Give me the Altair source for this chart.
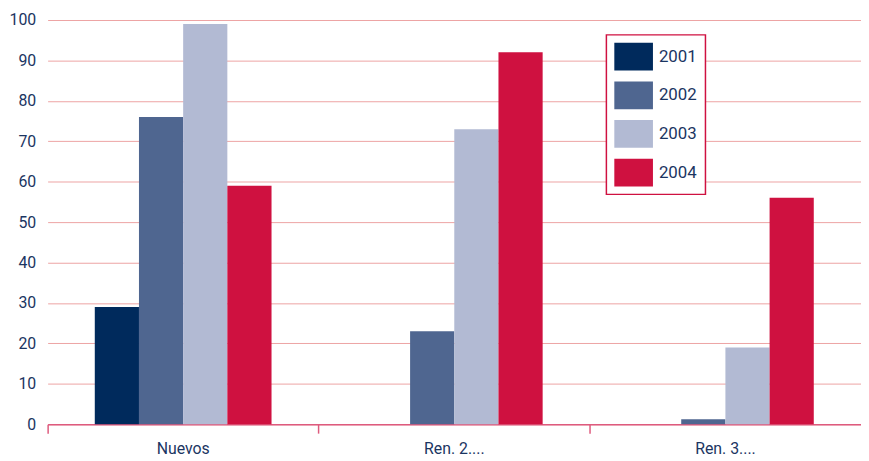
import altair as alt
import pandas as pd

categories = ["Nuevos", "Ren. 2....", "Ren. 3...."]
years = ["2001", "2002", "2003", "2004"]
v2001 = [29, 0, 0]
v2002 = [76, 23, 1.2]
v2003 = [99, 73, 19]
v2004 = [59, 92, 56]
colors = ["#002a5c", "#4f6690", "#b2bad3", "#cf1140"]
y_ticks = [0, 10, 20, 30, 40, 50, 60, 70, 80, 90, 100]

series = {"2001": v2001, "2002": v2002, "2003": v2003, "2004": v2004}
rows = []
for yr in years:
    for c, v in zip(categories, series[yr]):
        rows.append({"cat": c, "year": yr, "value": v})
df = pd.DataFrame(rows)

NAVY = "#1b3562"
FONT = "Roboto"

legend_sym = "M-1,-1L1.786,-1L1.786,1L-1,1Z"

chart = alt.Chart(df).mark_bar().encode(
    x=alt.X("cat:N", sort=categories, title=None,
            scale=alt.Scale(paddingInner=0, paddingOuter=0),
            axis=alt.Axis(bandPosition=0, labelAngle=0,
                          domainColor="#de5b7e", domainWidth=1.5,
                          tickColor="#de5b7e", tickWidth=1.5, tickSize=9,
                          labelPadding=8, labelFontSize=16, labelColor=NAVY,
                          labelFont=FONT, grid=False)),
    xOffset=alt.XOffset("year:N", sort=years,
                        scale=alt.Scale(range=[47.6, 226], paddingInner=0, paddingOuter=0)),
    y=alt.Y("value:Q", title=None,
            scale=alt.Scale(domain=[0, 100], nice=False),
            axis=alt.Axis(values=y_ticks, domain=False, ticks=False,
                          labelPadding=12, labelFontSize=16, labelColor=NAVY,
                          labelFont=FONT, grid=True, gridColor="#eda3a3",
                          gridWidth=1)),
    color=alt.Color("year:N", sort=years,
                    scale=alt.Scale(domain=years, range=colors),
                    legend=alt.Legend(title=None, orient="none",
                                      legendX=564, legendY=15,
                                      symbolType=legend_sym, symbolSize=784,
                                      symbolStrokeWidth=0, symbolOpacity=1,
                                      labelFontSize=17, labelColor=NAVY,
                                      labelFont=FONT, labelOffset=17,
                                      labelExpr="datum.label + '       '",
                                      rowPadding=11, padding=8,
                                      strokeColor="#cf1140",
                                      fillColor="white")),
).properties(
    width=821, height=408,
    autosize=alt.AutoSizeParams(type="none"),
    padding={"left": 40, "top": 10, "right": 0, "bottom": 36},
).configure_view(stroke=None).configure_legend(strokeWidth=1.5)

chart.save("out.html", embed_options={"renderer": "svg", "actions": False})
